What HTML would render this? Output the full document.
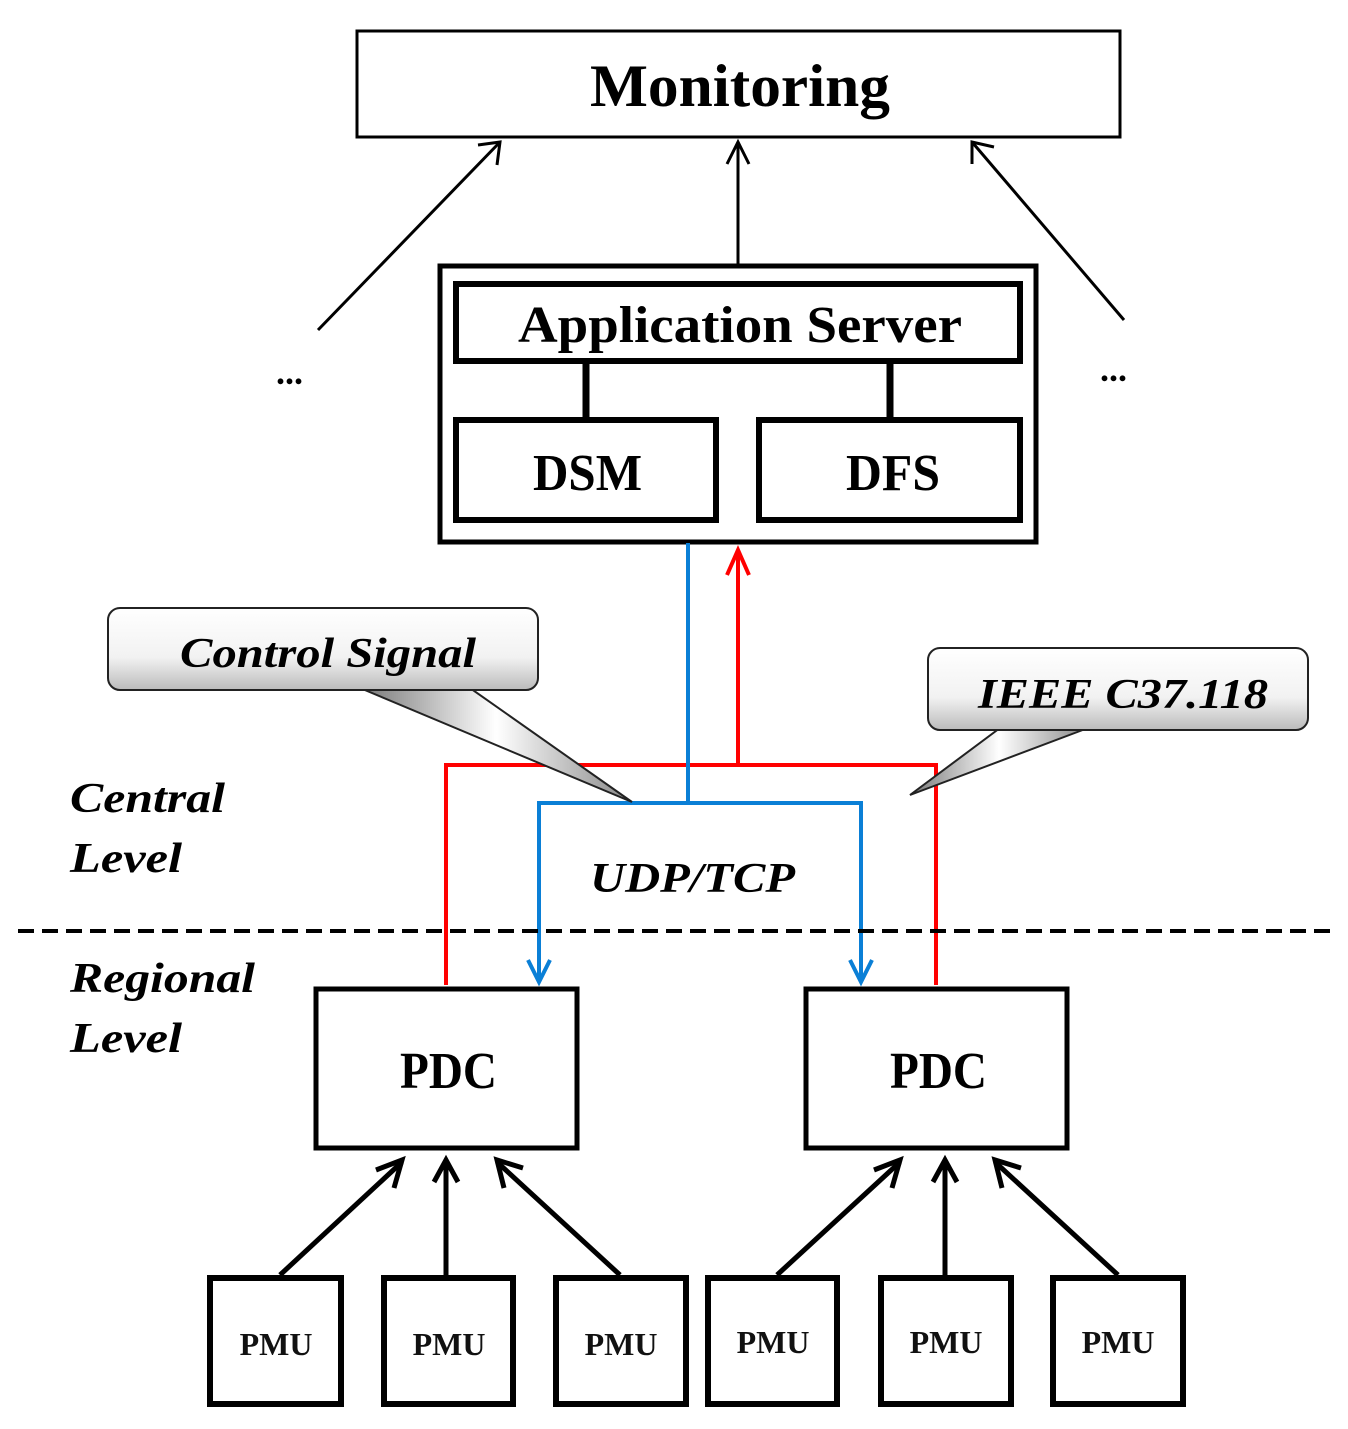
<!DOCTYPE html>
<html><head><style>body{margin:0;background:#fff}svg{display:block}</style></head><body>
<svg width="1348" height="1429" viewBox="0 0 1348 1429" xmlns="http://www.w3.org/2000/svg">
<defs>
<linearGradient id="g" x1="0" y1="0" x2="0" y2="1"><stop offset="0" stop-color="#fff"/><stop offset="0.6" stop-color="#f2f2f2"/><stop offset="1" stop-color="#bbb"/></linearGradient>
<linearGradient id="t" x1="0" y1="0" x2="1" y2="0"><stop offset="0" stop-color="#777"/><stop offset="0.5" stop-color="#fff"/><stop offset="1" stop-color="#888"/></linearGradient>
</defs>
<g font-family="Liberation Serif, serif" fill="#000" stroke="none">
<rect x="357" y="31" width="763" height="106" fill="none" stroke="#000" stroke-width="3"/>
<text x="590" y="106" font-size="60" font-weight="bold" textLength="300" lengthAdjust="spacingAndGlyphs">Monitoring</text>
<g stroke="#000" stroke-width="3" fill="none">
<line x1="318" y1="330" x2="500" y2="142"/><polyline points="478,145 500,142 497,165"/>
<line x1="738" y1="265" x2="738" y2="142"/><polyline points="727,164 738,142 749,164"/>
<line x1="1124" y1="320" x2="972" y2="142"/><polyline points="972,164 972,142 994,147"/>
</g>
<text x="276" y="384" font-size="36" font-weight="bold">...</text>
<text x="1100" y="381" font-size="36" font-weight="bold">...</text>
<rect x="440" y="266" width="596" height="276" fill="none" stroke="#000" stroke-width="5"/>
<rect x="456" y="284" width="564" height="77" fill="none" stroke="#000" stroke-width="6"/>
<text x="518" y="342" font-size="52" font-weight="bold" textLength="444" lengthAdjust="spacingAndGlyphs">Application Server</text>
<rect x="456" y="420" width="260" height="100" fill="none" stroke="#000" stroke-width="6"/>
<rect x="759" y="420" width="261" height="100" fill="none" stroke="#000" stroke-width="6"/>
<line x1="586" y1="361" x2="586" y2="420" stroke="#000" stroke-width="7"/>
<line x1="890" y1="361" x2="890" y2="420" stroke="#000" stroke-width="7"/>
<text x="533" y="490" font-size="52" font-weight="bold" textLength="109" lengthAdjust="spacingAndGlyphs">DSM</text>
<text x="846" y="490" font-size="52" font-weight="bold" textLength="94" lengthAdjust="spacingAndGlyphs">DFS</text>
<g stroke="#f00" stroke-width="4" fill="none">
<line x1="738" y1="550" x2="738" y2="765"/><polyline points="727,575 738,550 749,575"/>
<polyline points="446,985 446,765 936,765 936,985"/>
</g>
<g stroke="#0a7fd6" stroke-width="4" fill="none">
<line x1="688" y1="543" x2="688" y2="803"/>
<polyline points="539,982 539,803 861,803 861,982"/>
<polyline points="528,960 539,982 550,960"/><polyline points="850,960 861,982 872,960"/>
</g>
<polygon points="360,688 470,688 632,802" fill="url(#t)" stroke="#222" stroke-width="2"/>
<rect x="108" y="608" width="430" height="82" rx="12" fill="url(#g)" stroke="#222" stroke-width="2"/>
<text x="180" y="667" font-size="42" font-style="italic" font-weight="bold" textLength="296" lengthAdjust="spacingAndGlyphs">Control Signal</text>
<polygon points="1000,728 1088,728 910,795" fill="url(#t)" stroke="#222" stroke-width="2"/>
<rect x="928" y="648" width="380" height="82" rx="12" fill="url(#g)" stroke="#222" stroke-width="2"/>
<text x="978" y="708" font-size="42" font-style="italic" font-weight="bold" textLength="290" lengthAdjust="spacingAndGlyphs">IEEE C37.118</text>
<g font-size="42" font-style="italic" font-weight="bold">
<text x="70" y="812" textLength="155" lengthAdjust="spacingAndGlyphs">Central</text>
<text x="70" y="872" textLength="112" lengthAdjust="spacingAndGlyphs">Level</text>
<text x="70" y="992" textLength="185" lengthAdjust="spacingAndGlyphs">Regional</text>
<text x="70" y="1052" textLength="112" lengthAdjust="spacingAndGlyphs">Level</text>
<text x="590" y="892" textLength="205" lengthAdjust="spacingAndGlyphs">UDP/TCP</text>
</g>
<line x1="18" y1="931" x2="1330" y2="931" stroke="#000" stroke-width="4" stroke-dasharray="16,8"/>
<rect x="316" y="989" width="261" height="159" fill="none" stroke="#000" stroke-width="5"/>
<rect x="806" y="989" width="261" height="159" fill="none" stroke="#000" stroke-width="5"/>
<text x="400" y="1088" font-size="52" font-weight="bold" textLength="97" lengthAdjust="spacingAndGlyphs">PDC</text>
<text x="890" y="1088" font-size="52" font-weight="bold" textLength="97" lengthAdjust="spacingAndGlyphs">PDC</text>
<g stroke="#000" stroke-width="5" fill="none">
<line x1="280" y1="1275" x2="402" y2="1162"/><polyline points="376,1170 402,1160 394,1188"/>
<line x1="446" y1="1275" x2="446" y2="1160"/><polyline points="434,1182 446,1160 458,1182"/>
<line x1="620" y1="1275" x2="497" y2="1162"/><polyline points="504,1188 497,1160 523,1168"/>
<line x1="777" y1="1275" x2="900" y2="1162"/><polyline points="874,1170 900,1160 892,1188"/>
<line x1="945" y1="1275" x2="945" y2="1160"/><polyline points="933,1182 945,1160 957,1182"/>
<line x1="1118" y1="1275" x2="995" y2="1162"/><polyline points="1002,1188 995,1160 1021,1168"/>
<rect x="210" y="1278" width="131" height="126" stroke-width="6"/>
<rect x="384" y="1278" width="129" height="126" stroke-width="6"/>
<rect x="556" y="1278" width="130" height="126" stroke-width="6"/>
<rect x="708" y="1278" width="129" height="126" stroke-width="6"/>
<rect x="881" y="1278" width="130" height="126" stroke-width="6"/>
<rect x="1053" y="1278" width="130" height="126" stroke-width="6"/>
</g>
<g font-size="32" font-weight="bold" text-anchor="middle" fill="#111">
<text x="276" y="1355">PMU</text><text x="449" y="1355">PMU</text><text x="621" y="1355">PMU</text>
<text x="773" y="1353">PMU</text><text x="946" y="1353">PMU</text><text x="1118" y="1353">PMU</text>
</g>
</g>
</svg>
</body></html>
